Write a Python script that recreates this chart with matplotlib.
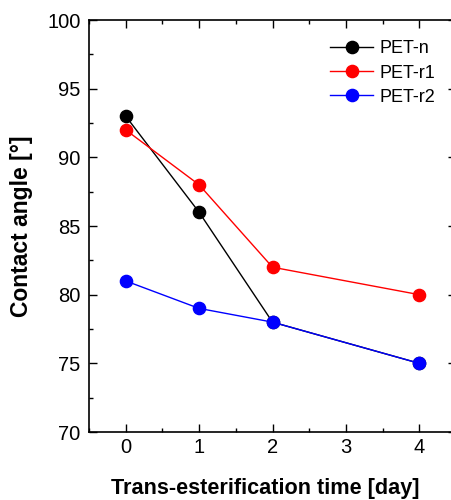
import matplotlib
matplotlib.use("Agg")
import matplotlib.pyplot as plt
from matplotlib.ticker import MultipleLocator

plt.rcParams['font.family'] = ['Liberation Sans', 'DejaVu Sans']

dias = [0, 1, 2, 4]
pet_n = [93, 86, 78, 75]
pet_r1 = [92, 88, 82, 80]
pet_r2 = [81, 79, 78, 75]
series = [('PET-n', pet_n, 'black'), ('PET-r1', pet_r1, 'red'), ('PET-r2', pet_r2, 'blue')]

fig = plt.figure(figsize=(4.51, 5), dpi=100)
# el eje derecho queda fuera de la imagen, como en el original
ax = fig.add_axes([89 / 451, 68 / 500, 367 / 451, 412 / 500])

for nombre, valores, color in series:
    ax.plot(dias, valores, '-o', color=color, lw=1, markersize=8.8, label=nombre)

ax.set_xlim(-0.5, 4.5)
ax.set_ylim(70, 100)
ax.xaxis.set_major_locator(MultipleLocator(1))
ax.xaxis.set_minor_locator(MultipleLocator(0.5))
ax.yaxis.set_major_locator(MultipleLocator(5))
ax.yaxis.set_minor_locator(MultipleLocator(2.5))
ax.tick_params(which='both', direction='in', top=True, right=True, labelsize=14.5, width=1)
ax.tick_params(which='major', length=6)
ax.tick_params(which='minor', length=3)
ax.tick_params(axis='x', pad=4)
ax.tick_params(axis='y', pad=6)
for s in ax.spines.values():
    s.set_linewidth(1.2)

ax.set_xlabel('Trans-esterification time [day]', fontsize=15.6, fontweight='bold')
ax.set_ylabel('Contact angle [°]', fontsize=16.5, fontweight='bold')
ax.xaxis.set_label_coords(0.48, -0.112)
ax.yaxis.set_label_coords(-0.153, 0.5)

ax.legend(loc='upper left', bbox_to_anchor=(0.612, 0.99), frameon=False, fontsize=13,
          handlelength=2.4, handletextpad=0.35, labelspacing=0.4)

fig.savefig('out.png', dpi=100)
plt.close(fig)
